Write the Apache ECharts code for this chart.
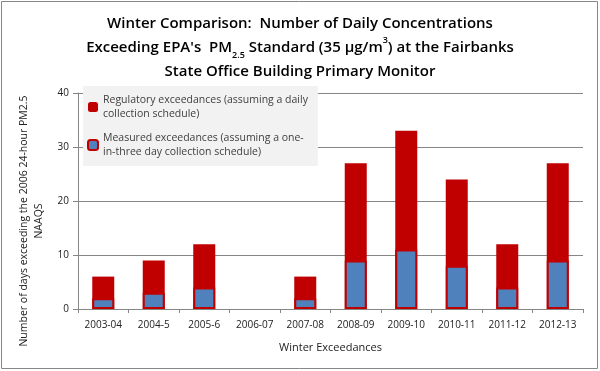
<!DOCTYPE html>
<html>
<head>
<meta charset="utf-8">
<script src="https://cdn.jsdelivr.net/npm/echarts@6/dist/echarts.min.js"></script>
<style>
  html, body { margin: 0; padding: 0; background: #fff; }
  #main { width: 600px; height: 371px; }
</style>
</head>
<body>
<div id="main"></div>
<script>
var winters = ['2003-04', '2004-5', '2005-6', '2006-07', '2007-08', '2008-09', '2009-10', '2010-11', '2011-12', '2012-13'];
var regulatory = [6, 9, 12, 0, 6, 27, 33, 24, 12, 27];
var measured = [2, 3, 4, 0, 2, 9, 11, 8, 4, 9];
var yTicks = [0, 10, 20, 30, 40];

var FONT = '"Open Sans", "Liberation Sans", sans-serif';

// zero winters draw no bar (otherwise the border leaves a stub)
function noZero(arr) {
    return arr.map(function (v) { return v === 0 ? '-' : v; });
}

var chart = echarts.init(document.getElementById('main'));

var option = {
    animation: false,
    textStyle: { fontFamily: FONT },
    graphic: [{
        type: 'rect',
        shape: { x: 1.5, y: 1.5, width: 596, height: 367 },
        style: { fill: 'none', stroke: '#868686', lineWidth: 1 },
        z: 100
    }],
    title: {
        left: 'center',
        top: 7,
        text: 'Winter Comparison:  Number of Daily Concentrations\n' +
              'Exceeding EPA\'s  PM{sub|2.5} Standard (35 µg/m{sup|3}) at the Fairbanks\n' +
              'State Office Building Primary Monitor',
        textStyle: {
            fontFamily: FONT,
            fontSize: 15,
            fontWeight: 600,
            color: '#000',
            lineHeight: 24,
            rich: {
                sub: { fontSize: 9, fontWeight: 600, verticalAlign: 'bottom', padding: [6, 0, 0, 0], lineHeight: 24 },
                sup: { fontSize: 9, fontWeight: 600, verticalAlign: 'top', lineHeight: 14 }
            }
        }
    },
    legend: {
        orient: 'vertical',
        left: 83,
        top: 86,
        width: 255,
        padding: [7, 10, 7, 4],
        itemGap: 10,
        itemWidth: 10,
        itemHeight: 10,
        backgroundColor: '#f2f2f2',
        align: 'left',
        textStyle: { fontFamily: FONT, fontSize: 10.5, color: '#404040', lineHeight: 14 },
        data: ['Regulatory', 'Measured'],
        formatter: function (name) {
            if (name === 'Regulatory') {
                return 'Regulatory exceedances (assuming a daily\ncollection schedule)';
            }
            return 'Measured exceedances (assuming a one-\nin-three day collection schedule)';
        }
    },
    grid: { left: 78, right: 17, top: 93, bottom: 62 },
    xAxis: {
        type: 'category',
        data: winters,
        name: 'Winter Exceedances',
        nameLocation: 'middle',
        nameGap: 33,
        nameTextStyle: { fontFamily: FONT, fontSize: 11, color: '#222' },
        axisLine: { lineStyle: { color: '#868686' } },
        axisTick: { show: true, alignWithLabel: false, length: 4, lineStyle: { color: '#868686' } },
        axisLabel: { fontFamily: FONT, fontSize: 10, color: '#222', margin: 11, interval: 0 }
    },
    yAxis: {
        type: 'value',
        min: yTicks[0],
        max: yTicks[yTicks.length - 1],
        interval: 10,
        name: 'Number of days exceeding the 2006 24-hour PM2.5\nNAAQS',
        nameLocation: 'middle',
        nameRotate: 90,
        nameGap: 30,
        nameTextStyle: { fontFamily: FONT, fontSize: 10.5, color: '#222', lineHeight: 15, padding: [0, 40, 0, 0] },
        axisLine: { show: true, lineStyle: { color: '#868686' } },
        axisTick: { show: true, length: 5, lineStyle: { color: '#868686' } },
        axisLabel: { fontFamily: FONT, fontSize: 10, color: '#222', margin: 9 },
        splitLine: { lineStyle: { color: '#868686' } }
    },
    series: [{
        name: 'Regulatory',
        type: 'bar',
        data: noZero(regulatory),
        barWidth: 22,
        itemStyle: { color: '#c00000' }
    }, {
        name: 'Measured',
        type: 'bar',
        data: noZero(measured),
        barWidth: 22,
        barGap: '-100%',
        itemStyle: { color: '#4f81bd', borderColor: '#c00000', borderWidth: 2 }
    }]
};

chart.setOption(option);
</script>
</body>
</html>
